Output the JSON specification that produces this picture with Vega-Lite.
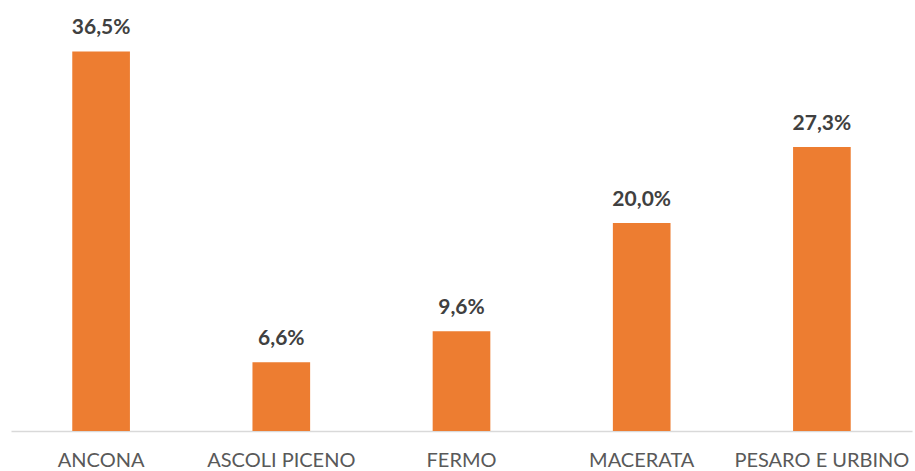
{
  "$schema": "https://vega.github.io/schema/vega-lite/v6.json",
  "width": 901,
  "height": 416,
  "autosize": {"type": "none"},
  "padding": {"left": 11, "top": 15, "right": 3, "bottom": 40},
  "data": {
    "values": [
      {"provincia": "ANCONA", "quota": 36.5, "etichetta": "36,5%"},
      {"provincia": "ASCOLI PICENO", "quota": 6.6, "etichetta": "6,6%"},
      {"provincia": "FERMO", "quota": 9.6, "etichetta": "9,6%"},
      {"provincia": "MACERATA", "quota": 20.0, "etichetta": "20,0%"},
      {"provincia": "PESARO E URBINO", "quota": 27.3, "etichetta": "27,3%"}
    ]
  },
  "encoding": {
    "x": {
      "field": "provincia",
      "type": "nominal",
      "sort": null,
      "scale": {"paddingInner": 0.68, "paddingOuter": 0.34},
      "axis": {
        "title": null,
        "labelAngle": 0,
        "labelFont": "Lato",
        "labelFontSize": 20,
        "labelColor": "#595959",
        "labelPadding": 19,
        "ticks": false,
        "domainColor": "#d9d9d9",
        "domainWidth": 1.5
      }
    },
    "y": {
      "field": "quota",
      "type": "quantitative",
      "scale": {"domain": [0, 40], "nice": false},
      "axis": null
    }
  },
  "layer": [
    {"mark": {"type": "bar", "color": "#ED7D31"}},
    {
      "mark": {
        "type": "text",
        "baseline": "bottom",
        "dy": -13,
        "font": "Lato",
        "fontSize": 21,
        "fontWeight": "bold",
        "color": "#404040"
      },
      "encoding": {"text": {"field": "etichetta"}}
    }
  ],
  "config": {"view": {"stroke": null}}
}
